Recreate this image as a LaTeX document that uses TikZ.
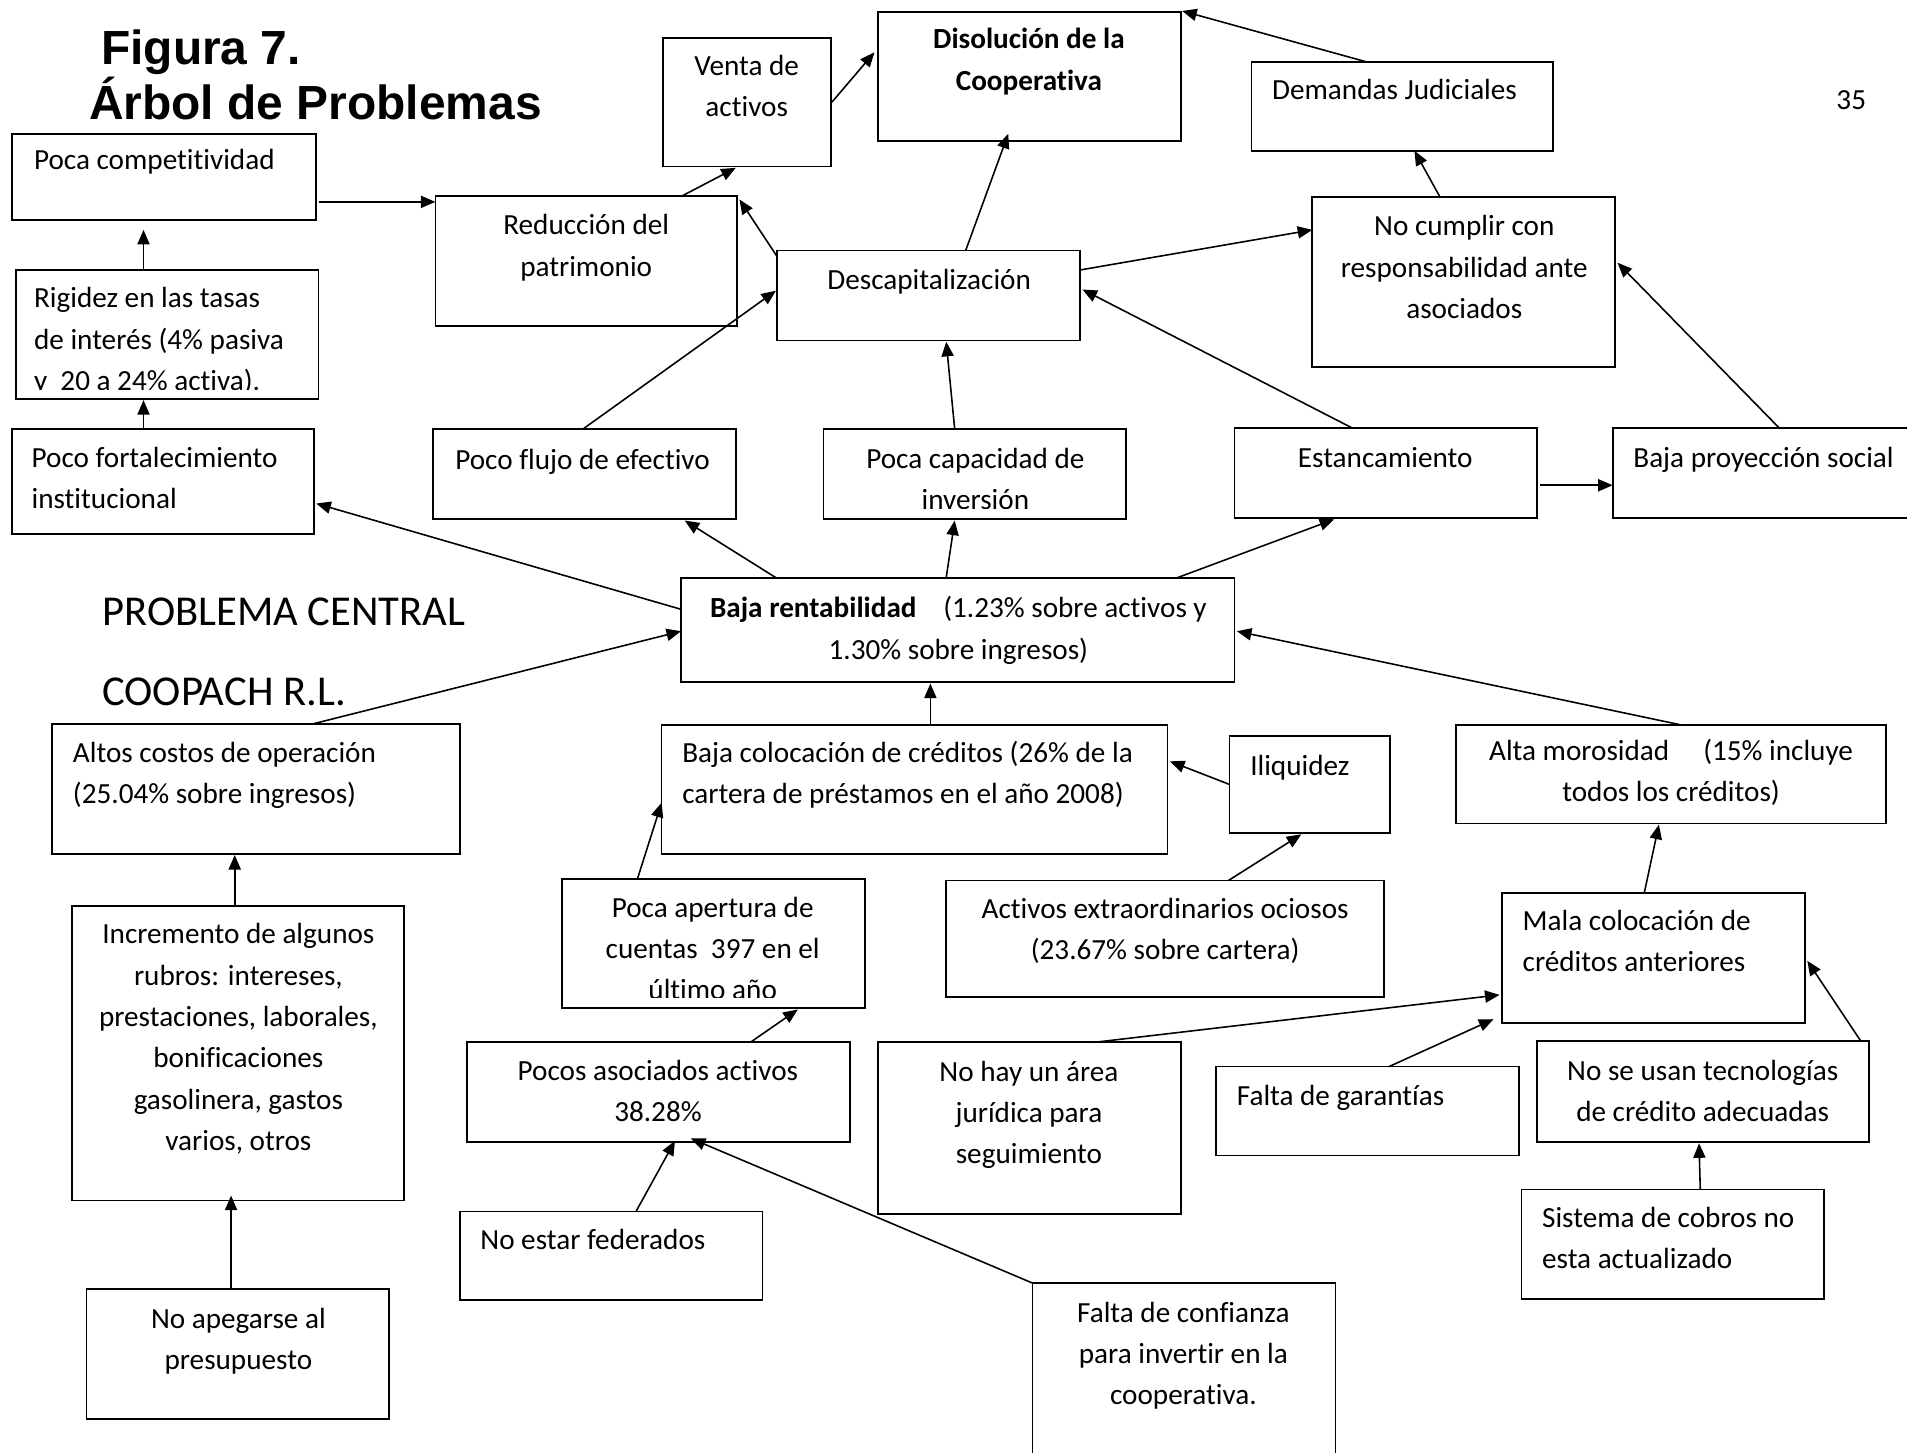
\documentclass[tikz,border=0pt]{standalone}
\usepackage{fontspec}
\setmainfont{Carlito}[Ligatures={NoCommon}]
\newfontfamily\titlefont{Liberation Sans}
\usetikzlibrary{arrows.meta,calc}

% first-line strut: every text node starts 20pt above its first baseline
\newcommand\firstln{\rule{0pt}{20pt}}
% box from its top-left (x1,y1) to bottom-right (x2,y2), y growing downwards
\newcommand\bx[5]{\node[box, minimum width={#4-#2}, minimum height={#5-#3}] (#1) at ({(#2+#4)/2},{(#3+#5)/2}) {};}
% connector: offset from the source's top-left corner to offset from the target's top-left corner
\newcommand\lnk[6]{\draw[arr] ($(#1.north west)+(#2,#3)$) -- ($(#4.north west)+(#5,#6)$);}

\tikzset{
  box/.style={draw, rectangle, line width=1.4pt, inner sep=0pt, outer sep=0pt},
  arr/.style={line width=1.3pt, -{Triangle[length=12pt,width=10pt]}},
  txt/.style={inner sep=0pt, outer sep=0pt, font=\fontsize{24}{34}\selectfont},
  tl/.style={txt, anchor=north west, align=left},
  tc/.style={txt, anchor=north, align=center},
  bigcap/.style={inner sep=0pt, anchor=base west, font=\fontsize{35}{40}\selectfont},
  titletxt/.style={inner sep=0pt, anchor=base west, font=\titlefont\bfseries\fontsize{39.4}{45}\selectfont},
}

\begin{document}
\begin{tikzpicture}[x=1pt,y=-1pt]
\useasboundingbox[fill=white] (0,0) rectangle (1568,1194);

% ---------- heading ----------
\node[titletxt] (fig) at (83,53) {Figura 7.};
\node[titletxt] (arb) at (73,98) {Árbol de Problemas};
\node[tl] (pnum) at (1510,70) {\firstln 35};
\node[bigcap] (pc1) at (84,514) {PROBLEMA CENTRAL};
\node[bigcap] (pc2) at (84,580) {COOPACH R.L.};

% ---------- boxes ----------
\bx{comp}{10}{110}{260}{181}
\bx{rig}{13}{222}{262}{328}
\bx{fort}{10}{353}{258}{439}
\bx{red}{358}{161}{606}{268}
\bx{venta}{545}{31}{683}{137}
\bx{dis}{722}{10}{971}{116}
\bx{dem}{1029}{51}{1277}{124}
\bx{desc}{639}{206}{888}{280}
\bx{cump}{1079}{162}{1328}{302}
\bx{flujo}{356}{353}{605}{427}
\bx{capac}{677}{353}{926}{427}
\bx{estan}{1015}{352}{1264}{426}
\bx{proy}{1326}{352}{1590}{426}
\bx{rent}{560}{475}{1015}{561}
\bx{altos}{43}{595}{378}{702}
\bx{bcol}{544}{596}{960}{702}
\bx{iliq}{1011}{605}{1143}{685}
\bx{moro}{1197}{596}{1551}{677}
\bx{incr}{59}{745}{332}{987}
\bx{aper}{462}{723}{711}{829}
\bx{actx}{778}{724}{1138}{820}
\bx{mala}{1235}{734}{1484}{841}
\bx{pocos}{384}{857}{699}{939}
\bx{jur}{722}{857}{971}{998}
\bx{gar}{1000}{877}{1249}{950}
\bx{tec}{1264}{856}{1537}{939}
\bx{cob}{1251}{978}{1500}{1068}
\bx{fed}{378}{996}{627}{1069}
\bx{apeg}{71}{1060}{320}{1167}
\bx{conf}{849}{1055}{1098}{1210}

% ---------- box texts ----------
\node[tl] (tcomp) at (28,119) {\firstln Poca competitividad};
\begin{scope}
  \clip (13,222) rectangle (262,320);
  \node[tl] (trig) at (28,233) {\firstln Rigidez en las tasas\\de interés (4\% pasiva\\y\ \ 20 a 24\% activa).};
\end{scope}
\node[tl] (tfort) at (26,364) {\firstln Poco fortalecimiento\\institucional};
\node[tc] (tred) at (482,173) {\firstln Reducción del\\patrimonio};
\node[tc] (tventa) at (614,42) {\firstln Venta de\\activos};
\node[tc] (tdis) at (846,20) {\firstln\textbf{Disolución de la}\\\textbf{Cooperativa}};
\node[tl] (tdem) at (1046,62) {\firstln Demandas Judiciales};
\node[tc] (tdesc) at (764,218) {\firstln Descapitalización};
\node[tc] (tcump) at (1204,174) {\firstln No cumplir con\\responsabilidad ante\\asociados};
\node[tc] (tflujo) at (479,366) {\firstln Poco flujo de efectivo};
\begin{scope}
  \clip (677,353) rectangle (926,418);
  \node[tc] (tcapac) at (802,365) {\firstln Poca capacidad de\\inversión};
\end{scope}
\node[tc] (testan) at (1139,364) {\firstln Estancamiento};
\node[tl] (tproy) at (1343,364) {\firstln Baja proyección social};
\node[tc] (trent) at (788,488) {\firstln\textbf{Baja rentabilidad}\hspace{22pt}(1.23\% sobre activos y\\1.30\% sobre ingresos)};
\node[tl] (taltos) at (60,607) {\firstln Altos costos de operación\\(25.04\% sobre ingresos)};
\node[tl] (tbcol) at (561,607) {\firstln Baja colocación de créditos (26\% de la\\cartera de préstamos en el año 2008)};
\node[tl] (tiliq) at (1028,618) {\firstln Iliquidez};
\node[tc] (tmoro) at (1374,605) {\firstln Alta morosidad\hspace{28pt}(15\% incluye\\todos los créditos)};
\node[tc] (tincr) at (196,756) {\firstln Incremento de algunos\\rubros: intereses,\\prestaciones, laborales,\\bonificaciones\\gasolinera, gastos\\varios, otros};
\begin{scope}
  \clip (462,723) rectangle (711,820);
  \node[tc] (taper) at (586,734) {\firstln Poca apertura de\\cuentas\ \ 397 en el\\último año};
\end{scope}
\node[tc] (tactx) at (958,735) {\firstln Activos extraordinarios ociosos\\(23.67\% sobre cartera)};
\node[tl] (tmala) at (1252,745) {\firstln Mala colocación de\\créditos anteriores};
\node[tc] (tpocos) at (541,868) {\firstln Pocos asociados activos\\38.28\%};
\node[tc] (tjur) at (846,869) {\firstln No hay un área\\jurídica para\\seguimiento};
\node[tl] (tgar) at (1017,889) {\firstln Falta de garantías};
\node[tc] (ttec) at (1400,868) {\firstln No se usan tecnologías\\de crédito adecuadas};
\node[tl] (tcob) at (1268,989) {\firstln Sistema de cobros no\\esta actualizado};
\node[tl] (tfed) at (395,1007) {\firstln No estar federados};
\node[tc] (tapeg) at (196,1072) {\firstln No apegarse al\\presupuesto};
\node[tc] (tconf) at (973,1067) {\firstln Falta de confianza\\para invertir en la\\cooperativa.};

% ---------- connectors ----------
\lnk{comp}{252}{56}{red}{0}{5}
\lnk{rig}{105}{0}{comp}{108}{79}
\lnk{fort}{108}{0}{rig}{105}{107}
\lnk{red}{203}{0}{venta}{60}{107}
\lnk{venta}{139}{53}{dis}{-3}{33}
\lnk{desc}{0}{5}{red}{250}{3}
\lnk{flujo}{123}{0}{desc}{-1}{33}
\lnk{desc}{155}{0}{dis}{107}{100}
\lnk{capac}{108}{0}{desc}{139}{75}
\lnk{desc}{249}{16}{cump}{0}{27}
\lnk{estan}{97}{0}{desc}{251}{32}
\lnk{cump}{105}{0}{dem}{134}{73}
\lnk{dem}{95}{0}{dis}{250}{-1}
\lnk{proy}{137}{0}{cump}{251}{54}
\lnk{estan}{251}{47}{proy}{0}{47}
\lnk{rent}{0}{26}{fort}{250}{61}
\lnk{rent}{78}{0}{flujo}{207}{75}
\lnk{rent}{218}{0}{capac}{108}{75}
\lnk{rent}{408}{0}{estan}{82}{75}
\lnk{altos}{215}{0}{rent}{0}{44}
\lnk{bcol}{221}{0}{rent}{205}{87}
\lnk{moro}{185}{0}{rent}{457}{44}
\lnk{iliq}{0}{40}{bcol}{418}{30}
\lnk{actx}{232}{0}{iliq}{59}{81}
\lnk{aper}{62}{0}{bcol}{0}{64}
\lnk{pocos}{233}{0}{aper}{194}{107}
\lnk{fed}{145}{0}{pocos}{171}{81}
\lnk{conf}{0}{0}{pocos}{184}{79}
\lnk{jur}{178}{0}{mala}{-2}{84}
\lnk{gar}{142}{0}{mala}{-7}{104}
\lnk{tec}{266}{0}{mala}{251}{56}
\lnk{cob}{147}{0}{tec}{133}{84}
\lnk{mala}{117}{0}{moro}{167}{82}
\lnk{incr}{134}{0}{altos}{150}{108}
\lnk{apeg}{119}{0}{incr}{131}{238}
\end{tikzpicture}
\end{document}
